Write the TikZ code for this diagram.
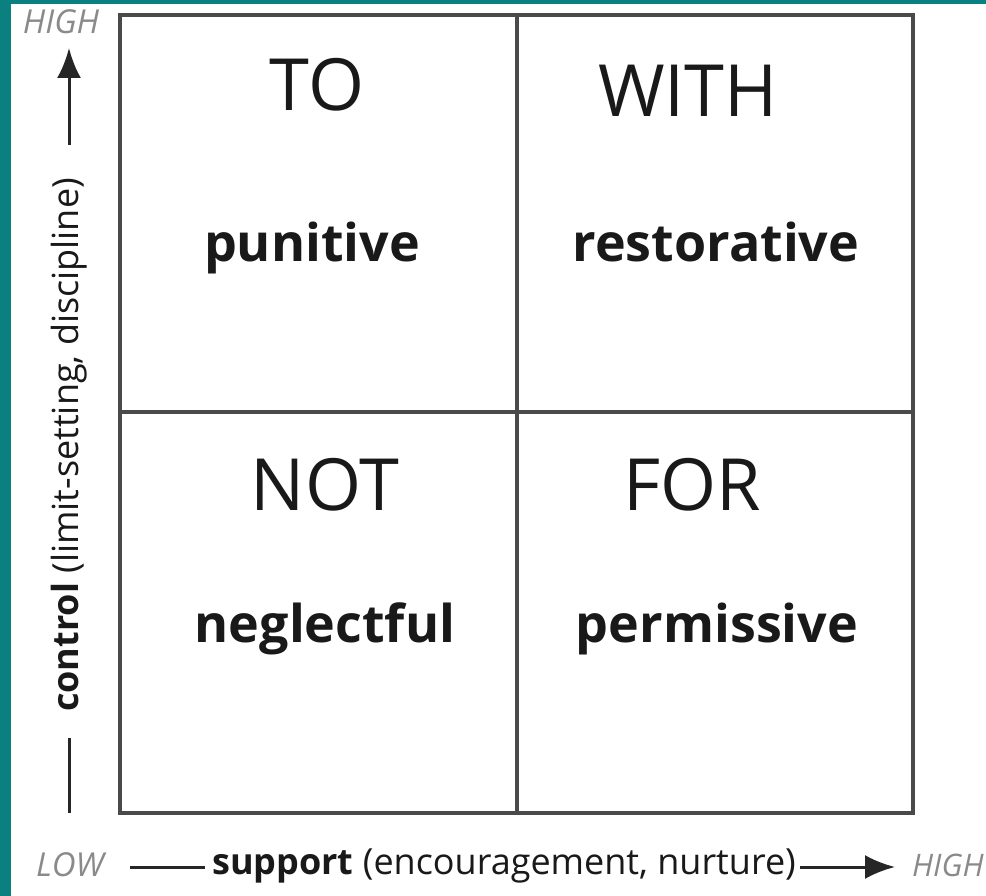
\documentclass[tikz,border=0pt]{standalone}
\usepackage{fontspec}
\setmainfont{Open Sans}
\usetikzlibrary{arrows.meta}
\definecolor{tealbg}{HTML}{0A8080}
\definecolor{gridc}{HTML}{4A4A4A}
\definecolor{axisgray}{HTML}{8A8A8A}
\begin{document}
\begin{tikzpicture}[x=1pt,y=-1pt,
  gridline/.style={draw=gridc,line width=4pt},
  bigword/.style={font=\fontsize{72}{72}\selectfont,anchor=base,inner sep=0pt,text=black!90},
  smallword/.style={font=\fontsize{52}{52}\selectfont\bfseries,anchor=base,inner sep=0pt,text=black!90},
  axisword/.style={font=\fontsize{33}{33}\selectfont\itshape,text=axisgray,inner sep=0pt},
  axislabel/.style={font=\fontsize{36}{36}\selectfont,inner sep=0pt,text=black!90},
  axisline/.style={draw=black!85,line width=3pt},
  axisarrow/.style={axisline,-{Latex[length=30pt,width=24pt]}}]
\useasboundingbox (0,0) rectangle (986,896);
\fill[white] (0,0) rectangle (986,896);
\fill[tealbg] (0,0) rectangle (986,4);
\fill[tealbg] (0,0) rectangle (11,896);
% grid
\draw[gridline] (120,15) rectangle (913,813);
\draw[gridline] (517,15) -- (517,813);
\draw[gridline] (120,412) -- (913,412);
% quadrant words
\node[bigword] (to) at (317,111) {TO};
\node[bigword] (with) at (688,117) {WITH};
\node[bigword] (not) at (325,510) {NOT};
\node[bigword] (for) at (692,510) {FOR};
\node[smallword] (pun) at (312,262) {punitive};
\node[smallword] (res) at (716,262) {restorative};
\node[smallword] (neg) at (325,642) {neglectful};
\node[smallword] (per) at (717,642) {permissive};
% vertical axis
\node[axisword] (vhigh) at (61,22) {HIGH};
\coordinate (vtail) at (69,145);
\coordinate (vhead) at (69,48);
\draw[axisarrow] (vtail) -- (vhead);
\node[axislabel,rotate=90] (ctrl) at (69,445) {\textbf{control} (limit-setting, discipline)};
\coordinate (vb1) at (69,738);
\coordinate (vb2) at (69,813);
\draw[axisline] (vb1) -- (vb2);
% horizontal axis
\node[axisword] (hlow) at (70,865) {LOW};
\coordinate (hl1) at (130,867);
\coordinate (hl2) at (205,867);
\draw[axisline] (hl1) -- (hl2);
\node[axislabel] (supp) at (504,866) {\textbf{support} (encouragement, nurture)};
\coordinate (ht) at (800,867);
\coordinate (hh) at (895,867);
\draw[axisarrow] (ht) -- (hh);
\node[axisword,font=\fontsize{31}{31}\selectfont\itshape,anchor=east] (hhigh) at (984,865) {HIGH};
\end{tikzpicture}
\end{document}
